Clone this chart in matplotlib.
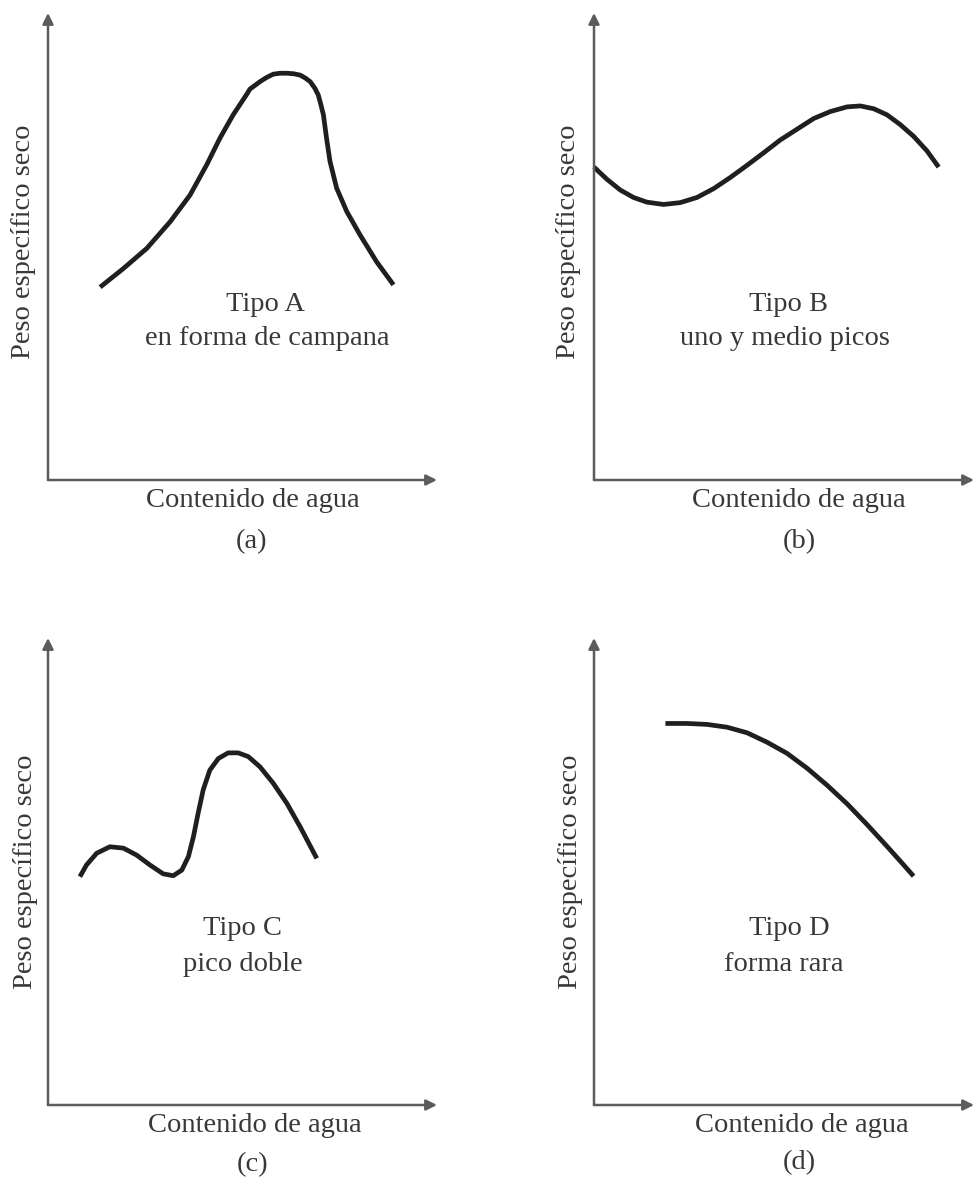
import matplotlib
matplotlib.use("Agg")
import matplotlib.pyplot as plt

plt.rcParams['font.family'] = ['Liberation Serif', 'DejaVu Serif']

# Compaction curve shapes (water content vs. dry unit weight, arbitrary units 0-10)
a_x = [1.34, 1.94, 2.54, 3.14, 3.65, 4.08, 4.42, 4.76, 5.11, 5.19, 5.45, 5.62,
       5.79, 5.96, 6.14, 6.31, 6.48, 6.61, 6.74, 6.86, 6.95, 7.02, 7.08, 7.16,
       7.25, 7.42, 7.68, 8.02, 8.45, 8.88]
a_y = [4.13, 4.53, 4.96, 5.53, 6.10, 6.75, 7.32, 7.82, 8.26, 8.37, 8.53, 8.62,
       8.69, 8.71, 8.71, 8.70, 8.67, 8.61, 8.53, 8.39, 8.24, 8.02, 7.82, 7.32,
       6.82, 6.25, 5.75, 5.25, 4.67, 4.18]

b_x = [0.00, 0.34, 0.69, 1.04, 1.39, 1.83, 2.27, 2.71, 3.15, 3.59, 4.03, 4.47,
       4.90, 5.34, 5.78, 6.22, 6.66, 7.01, 7.36, 7.71, 8.06, 8.41, 8.76, 9.07]
b_y = [6.70, 6.44, 6.21, 6.05, 5.95, 5.90, 5.94, 6.05, 6.24, 6.48, 6.74, 7.01,
       7.28, 7.51, 7.74, 7.89, 7.99, 8.01, 7.95, 7.82, 7.61, 7.36, 7.05, 6.70]

c_x = [0.82, 0.99, 1.25, 1.59, 1.94, 2.28, 2.62, 2.96, 3.22, 3.44, 3.61, 3.74,
       3.86, 3.99, 4.16, 4.38, 4.63, 4.89, 5.15, 5.45, 5.79, 6.14, 6.48, 6.91]
c_y = [4.89, 5.14, 5.39, 5.53, 5.50, 5.35, 5.14, 4.95, 4.91, 5.03, 5.32, 5.75,
       6.25, 6.75, 7.17, 7.42, 7.54, 7.54, 7.46, 7.24, 6.89, 6.46, 5.96, 5.28]

d_x = [1.88, 2.45, 2.97, 3.50, 4.03, 4.55, 5.08, 5.61, 6.13, 6.66, 7.18, 7.71,
       8.15, 8.41]
d_y = [8.17, 8.17, 8.15, 8.09, 7.97, 7.77, 7.53, 7.21, 6.85, 6.45, 6.01, 5.54,
       5.14, 4.90]

type_titles = ["Tipo A", "Tipo B", "Tipo C", "Tipo D"]
type_names = ["en forma de campana", "uno y medio picos", "pico doble", "forma rara"]
panel_tags = ["(a)", "(b)", "(c)", "(d)"]
x_label = "Contenido de agua"
y_label = "Peso específico seco"

W, H = 974, 1180
fig = plt.figure(figsize=(W / 100, H / 100), dpi=100)

# axes boxes in pixels: left, bottom-corner y, width, height
boxes = [(48, 480, 389, 467), (594, 480, 380, 467),
         (48, 1105, 389, 467), (594, 1105, 380, 467)]
curves = [(a_x, a_y), (b_x, b_y), (c_x, c_y), (d_x, d_y)]
# text anchors (data units) for: title, name, xlabel, tag, ylabel
text_pos = [
    dict(t=(5.58, 3.75), n=(5.63, 3.02), xl=(5.27, -0.43), tg=(5.24, -1.31), yl=(-0.64, 5.10)),
    dict(t=(5.13, 3.75), n=(5.03, 3.02), xl=(5.39, -0.43), tg=(5.39, -1.31), yl=(-0.66, 5.10)),
    dict(t=(5.01, 3.79), n=(5.01, 3.00), xl=(5.32, -0.43), tg=(5.27, -1.28), yl=(-0.59, 4.99)),
    dict(t=(5.13, 3.79), n=(5.00, 3.00), xl=(5.47, -0.43), tg=(5.39, -1.24), yl=(-0.63, 4.99)),
]

axis_color = "#5c5c5c"
text_color = "#383838"
curve_color = "#1f1f1f"
fs = 20.5

for i, (box, (xs, ys)) in enumerate(zip(boxes, curves)):
    left, cy, w, h = box
    ax = fig.add_axes([left / W, 1 - cy / H, w / W, h / H])
    ax.set_xlim(0, 10)
    ax.set_ylim(0, 10)
    ax.axis("off")

    arrow = dict(arrowstyle="-|>", color=axis_color, lw=1.8,
                 mutation_scale=16, shrinkA=0, shrinkB=0)
    ax.annotate("", xy=(10, 0), xytext=(0, 0), arrowprops=arrow,
                annotation_clip=False)
    ax.annotate("", xy=(0, 10), xytext=(0, 0), arrowprops=arrow,
                annotation_clip=False)

    ax.plot(xs, ys, color=curve_color, lw=3.4, solid_capstyle="butt",
            solid_joinstyle="round", clip_on=False)

    p = text_pos[i]
    ax.text(*p["t"], type_titles[i], ha="center", va="center",
            fontsize=fs, color=text_color)
    ax.text(*p["n"], type_names[i], ha="center", va="center",
            fontsize=fs, color=text_color)
    ax.text(*p["xl"], x_label, ha="center", va="center",
            fontsize=fs, color=text_color, clip_on=False)
    ax.text(*p["tg"], panel_tags[i], ha="center", va="center",
            fontsize=fs, color=text_color, clip_on=False)
    ax.text(*p["yl"], y_label, ha="center", va="center", rotation=90,
            fontsize=fs, color=text_color, clip_on=False)

fig.savefig("out.png", dpi=100, facecolor="white")
